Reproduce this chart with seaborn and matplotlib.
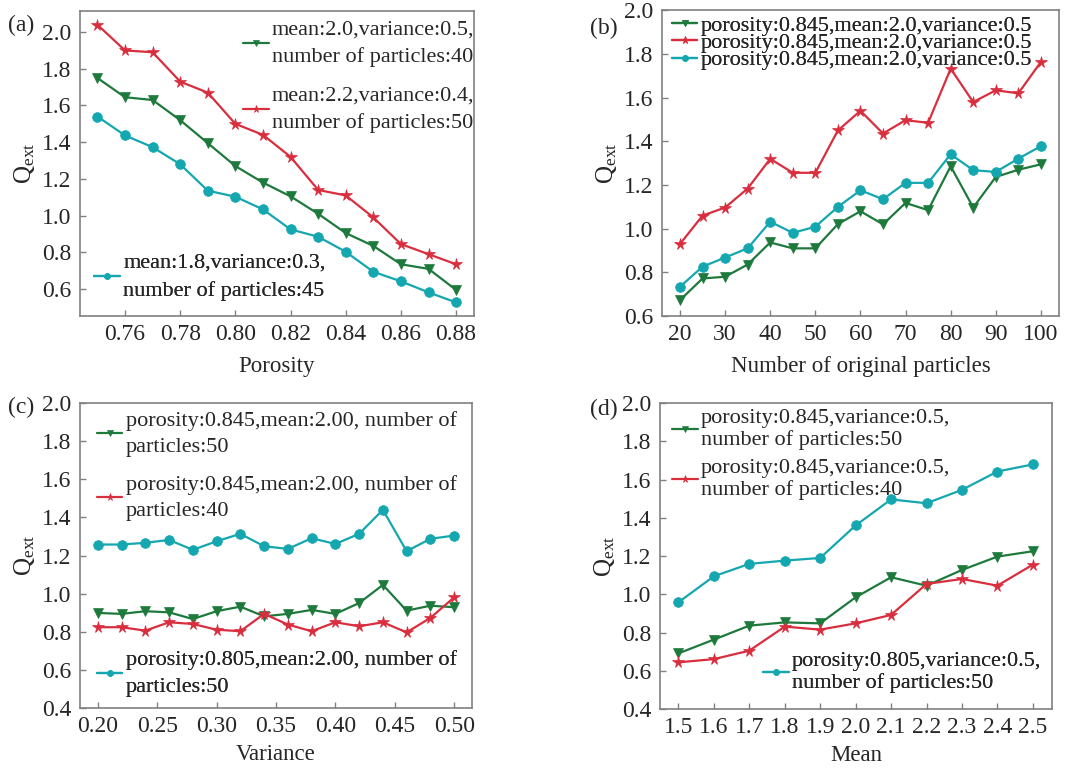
import numpy as np
import pandas as pd
import matplotlib
matplotlib.use("Agg")
import matplotlib.pyplot as plt
import seaborn as sns

# ---- data ----------------------------------------------------------------
porosity = [0.75, 0.76, 0.77, 0.78, 0.79, 0.80, 0.81, 0.82, 0.83, 0.84, 0.85, 0.86, 0.87, 0.88]
a_green = [1.75, 1.645, 1.63, 1.52, 1.395, 1.27, 1.18, 1.105, 1.01, 0.905, 0.835, 0.735, 0.71, 0.595]
a_red = [2.04, 1.90, 1.89, 1.73, 1.67, 1.50, 1.44, 1.32, 1.14, 1.11, 0.99, 0.845, 0.79, 0.735]
a_cyan = [1.54, 1.437, 1.373, 1.28, 1.136, 1.103, 1.034, 0.925, 0.885, 0.803, 0.694, 0.642, 0.582, 0.527]

n_particles = [20, 25, 30, 35, 40, 45, 50, 55, 60, 65, 70, 75, 80, 85, 90, 95, 100]
b_green = [0.673, 0.772, 0.78, 0.836, 0.937, 0.91, 0.91, 1.021, 1.08, 1.02, 1.118, 1.085, 1.286,
           1.097, 1.237, 1.27, 1.295]
b_red = [0.93, 1.06, 1.097, 1.184, 1.32, 1.256, 1.256, 1.45, 1.54, 1.436, 1.497, 1.485, 1.733,
         1.58, 1.634, 1.62, 1.764]
b_cyan = [0.734, 0.826, 0.868, 0.91, 1.032, 0.981, 1.009, 1.10, 1.176, 1.135, 1.21, 1.21, 1.341,
          1.268, 1.26, 1.321, 1.378]

variance = [0.20, 0.22, 0.24, 0.26, 0.28, 0.30, 0.32, 0.34, 0.36, 0.38, 0.40, 0.42, 0.44, 0.46, 0.48, 0.50]
c_green = [0.899, 0.894, 0.908, 0.902, 0.867, 0.908, 0.932, 0.881, 0.894, 0.915, 0.894, 0.951,
           1.046, 0.911, 0.937, 0.929]
c_red = [0.824, 0.824, 0.806, 0.85, 0.841, 0.811, 0.803, 0.894, 0.838, 0.803, 0.85, 0.829, 0.85,
         0.797, 0.873, 0.981]
c_cyan = [1.258, 1.258, 1.267, 1.282, 1.23, 1.275, 1.314, 1.249, 1.235, 1.291, 1.261, 1.314, 1.44,
          1.223, 1.288, 1.305]

mean = [1.5, 1.6, 1.7, 1.8, 1.9, 2.0, 2.1, 2.2, 2.3, 2.4, 2.5]
d_green = [0.691, 0.763, 0.836, 0.853, 0.848, 0.984, 1.089, 1.045, 1.127, 1.197, 1.225]
d_red = [0.644, 0.661, 0.705, 0.831, 0.815, 0.848, 0.892, 1.054, 1.08, 1.045, 1.155]
d_cyan = [0.958, 1.094, 1.159, 1.176, 1.19, 1.36, 1.496, 1.476, 1.546, 1.642, 1.679]

a_labels = ["mean:2.0,variance:0.5,\nnumber of particles:40",
            "mean:2.2,variance:0.4,\nnumber of particles:50",
            "mean:1.8,variance:0.3,\nnumber of particles:45"]
b_labels = ["porosity:0.845,mean:2.0,variance:0.5"] * 3
c_labels = ["porosity:0.845,mean:2.00, number of\nparticles:50",
            "porosity:0.845,mean:2.00, number of\nparticles:40",
            "porosity:0.805,mean:2.00, number of\nparticles:50"]
d_labels = ["porosity:0.845,variance:0.5,\nnumber of particles:50",
            "porosity:0.845,variance:0.5,\nnumber of particles:40",
            "porosity:0.805,variance:0.5,\nnumber of particles:50"]

# ---- style ---------------------------------------------------------------
sns.set_theme(style="ticks")
plt.rcParams["font.family"] = ["Liberation Serif", "DejaVu Serif"]
plt.rcParams["mathtext.fontset"] = "custom"
plt.rcParams["mathtext.rm"] = "Liberation Serif"

GREEN = "#1e7a3c"
RED = "#d92e3e"
CYAN = "#14a7b0"
FRAME = "#808080"
TICK_FS = 17
LEG_FS = 16
LAB_FS = 16.5

styles = [dict(color=GREEN, marker="v", markersize=7.5),
          dict(color=RED, marker="*", markersize=8.5),
          dict(color=CYAN, marker="o", markersize=7)]

fig = plt.figure(figsize=(10.9, 7.68), dpi=100)
ax_a = fig.add_axes([0.0734, 0.5885, 0.3615, 0.397])
ax_b = fig.add_axes([0.6073, 0.5885, 0.3642, 0.398])
ax_c = fig.add_axes([0.0734, 0.0781, 0.3596, 0.397])
ax_d = fig.add_axes([0.6055, 0.0768, 0.3596, 0.3984])


def draw(ax, x, ys, labels):
    lines = []
    for y, lab, st in zip(ys, labels, styles):
        df = pd.DataFrame({"x": x, "y": y})
        sns.lineplot(data=df, x="x", y="y", ax=ax, linewidth=1.6,
                     markeredgewidth=0.5, markeredgecolor=st["color"],
                     color=st["color"], marker=st["marker"],
                     markersize=st["markersize"], label=lab, legend=False)
        lines.append(ax.lines[-1])
    for sp in ax.spines.values():
        sp.set_color(FRAME)
        sp.set_linewidth(1.2)
    ax.tick_params(direction="in", length=4, width=1, color=FRAME,
                   labelsize=TICK_FS, pad=6)
    ax.set_ylabel("$\\mathregular{Q_{ext}}$", fontsize=18, labelpad=4)
    return lines


def legend(ax, handles, anchor, spacing=0.55, linespacing=1.2, fs=LEG_FS):
    leg = ax.legend(handles=handles, loc="upper left", bbox_to_anchor=anchor,
                    frameon=False, fontsize=fs, borderpad=0, borderaxespad=0,
                    handlelength=1.15, handletextpad=0.15, labelspacing=spacing,
                    markerscale=0.6)
    for t in leg.get_texts():
        t.set_linespacing(linespacing)
    ax.add_artist(leg)
    return leg


# (a)
la = draw(ax_a, porosity, [a_green, a_red, a_cyan], a_labels)
ax_a.set_xlim(0.7437, 0.8865)
ax_a.set_ylim(0.453, 2.114)
ax_a.set_xticks(np.arange(0.76, 0.881, 0.02))
ax_a.set_xticklabels([f"{v:.2f}" for v in np.arange(0.76, 0.881, 0.02)])
ax_a.set_yticks(np.arange(0.6, 2.01, 0.2))
ax_a.set_yticklabels([f"{v:.1f}" for v in np.arange(0.6, 2.01, 0.2)])
ax_a.set_xlabel("Porosity", fontsize=LAB_FS, labelpad=8)
legend(ax_a, la[:2], (0.414, 0.97), spacing=0.85, linespacing=1.55)
legend(ax_a, la[2:], (0.036, 0.205), linespacing=1.55)

# (b)
lb = draw(ax_b, n_particles, [b_green, b_red, b_cyan], b_labels)
ax_b.set_xlim(16, 104)
ax_b.set_ylim(0.6, 2.0)
ax_b.set_xticks(np.arange(20, 101, 10))
ax_b.set_yticks(np.arange(0.6, 2.01, 0.2))
ax_b.set_yticklabels([f"{v:.1f}" for v in np.arange(0.6, 2.01, 0.2)])
ax_b.set_xlabel("Number of original particles", fontsize=LAB_FS, labelpad=8)
legend(ax_b, lb, (0.025, 0.985), spacing=-0.14)

# (c)
lc = draw(ax_c, variance, [c_green, c_red, c_cyan], c_labels)
ax_c.set_xlim(0.185, 0.515)
ax_c.set_ylim(0.4, 2.0)
ax_c.set_xticks(np.arange(0.20, 0.501, 0.05))
ax_c.set_xticklabels([f"{v:.2f}" for v in np.arange(0.20, 0.501, 0.05)])
ax_c.set_yticks(np.arange(0.4, 2.01, 0.2))
ax_c.set_yticklabels([f"{v:.1f}" for v in np.arange(0.4, 2.01, 0.2)])
ax_c.set_xlabel("Variance", fontsize=LAB_FS, labelpad=5)
legend(ax_c, lc[:2], (0.043, 0.975), spacing=0.78, linespacing=1.55)
legend(ax_c, lc[2:], (0.043, 0.19), linespacing=1.55)

# (d)
ld = draw(ax_d, mean, [d_green, d_red, d_cyan], d_labels)
ax_d.set_xlim(1.448, 2.554)
ax_d.set_ylim(0.4, 2.0)
ax_d.set_xticks(np.arange(1.5, 2.51, 0.1))
ax_d.set_xticklabels([f"{v:.1f}" for v in np.arange(1.5, 2.51, 0.1)])
ax_d.set_yticks(np.arange(0.4, 2.01, 0.2))
ax_d.set_yticklabels([f"{v:.1f}" for v in np.arange(0.4, 2.01, 0.2)])
ax_d.set_xlabel("Mean", fontsize=LAB_FS, labelpad=5)
legend(ax_d, ld[:2], (0.031, 0.98), spacing=0.38, linespacing=1.15)
legend(ax_d, ld[2:], (0.263, 0.187), linespacing=1.15)

# panel tags
for tag, (px, py) in {"(a)": (8, 25), "(b)": (590, 28),
                      "(c)": (8, 407), "(d)": (590, 409)}.items():
    fig.text(px / 1090, 1 - py / 768, tag, fontsize=17, va="center", ha="left")

fig.savefig("out.png", dpi=100)
